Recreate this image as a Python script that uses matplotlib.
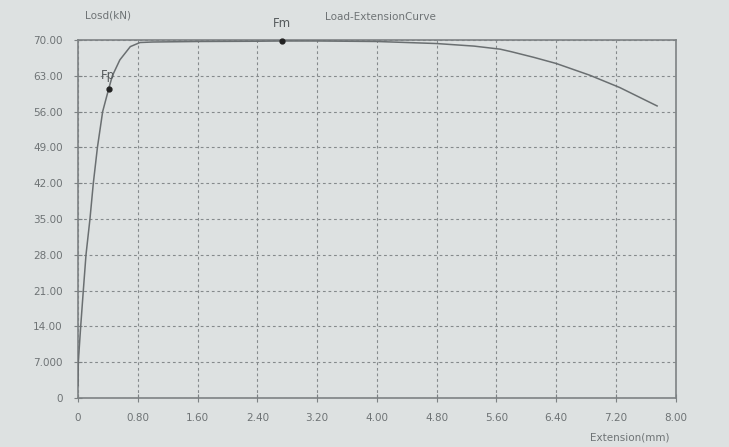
import numpy as np
import matplotlib
matplotlib.use('Agg')
import matplotlib.pyplot as plt

# ----------------------------------------
# Data
# ----------------------------------------
extension = [0.0, 0.004, 0.036, 0.071, 0.107, 0.16, 0.205, 0.26, 0.33, 0.41, 0.46,
             0.56, 0.70, 0.83, 1.0, 1.6, 2.4, 2.73, 3.2, 4.0, 4.8, 5.3, 5.65,
             5.8, 6.1, 6.4, 6.85, 7.25, 7.75]
load = [2.5, 7.0, 14.0, 21.0, 28.0, 35.0, 42.0, 49.0, 56.0, 60.4, 63.0,
        66.1, 68.7, 69.5, 69.6, 69.7, 69.75, 69.8, 69.8, 69.7, 69.3, 68.8, 68.2,
        67.7, 66.6, 65.4, 63.1, 60.7, 57.1]

fp_point = (0.41, 60.4)
fm_point = (2.73, 69.8)

x_ticks = [0, 0.8, 1.6, 2.4, 3.2, 4.0, 4.8, 5.6, 6.4, 7.2, 8.0]
x_labels = ["0", "0.80", "1.60", "2.40", "3.20", "4.00", "4.80", "5.60", "6.40", "7.20", "8.00"]
y_ticks = [0, 7, 14, 21, 28, 35, 42, 49, 56, 63, 70]
y_labels = ["0", "7.000", "14.00", "21.00", "28.00", "35.00", "42.00", "49.00", "56.00", "63.00", "70.00"]

# ----------------------------------------
# Styling
# ----------------------------------------
bg = '#dde1e1'
txt = '#6e7375'
line_c = '#6a6f71'
grid_c = '#858a8c'

fig = plt.figure(figsize=(7.29, 4.47), dpi=100, facecolor=bg)
ax = fig.add_axes([0.107, 0.1096, 0.82, 0.801])
ax.set_facecolor(bg)

ax.plot(extension, load, color=line_c, lw=1.1, zorder=3)
ax.plot(*fp_point, 'o', color='#222222', ms=3.5, zorder=4)
ax.plot(*fm_point, 'o', color='#222222', ms=3.5, zorder=4, clip_on=False)

ax.set_xlim(0, 8)
ax.set_ylim(0, 70)
ax.set_xticks(x_ticks)
ax.set_xticklabels(x_labels)
ax.set_yticks(y_ticks)
ax.set_yticklabels(y_labels)

ax.grid(True, color=grid_c, ls=(0, (2.5, 2.5)), lw=0.8)
for s in ax.spines.values():
    s.set_color('#7d8284')
    s.set_linewidth(1.2)

ax.tick_params(axis='both', colors='#7d8284', labelcolor=txt, labelsize=7.5,
               direction='inout', length=6)
ax.tick_params(axis='x', pad=8)
ax.tick_params(axis='y', pad=8)

# labels and annotations
fig.text(0.117, 0.965, 'Losd(kN)', color=txt, fontsize=7.5, ha='left', va='center')
fig.text(0.522, 0.962, 'Load-ExtensionCurve', color=txt, fontsize=7.5, ha='center', va='center')
fig.text(0.864, 0.022, 'Extension(mm)', color=txt, fontsize=7.5, ha='center', va='center')
ax.text(fm_point[0], 73.3, 'Fm', color='#555a5c', fontsize=8.5, ha='center', va='center', clip_on=False)
ax.text(0.40, 63.0, 'Fp', color='#555a5c', fontsize=8.5, ha='center', va='center')

fig.savefig('out.png', dpi=100, facecolor=bg)
